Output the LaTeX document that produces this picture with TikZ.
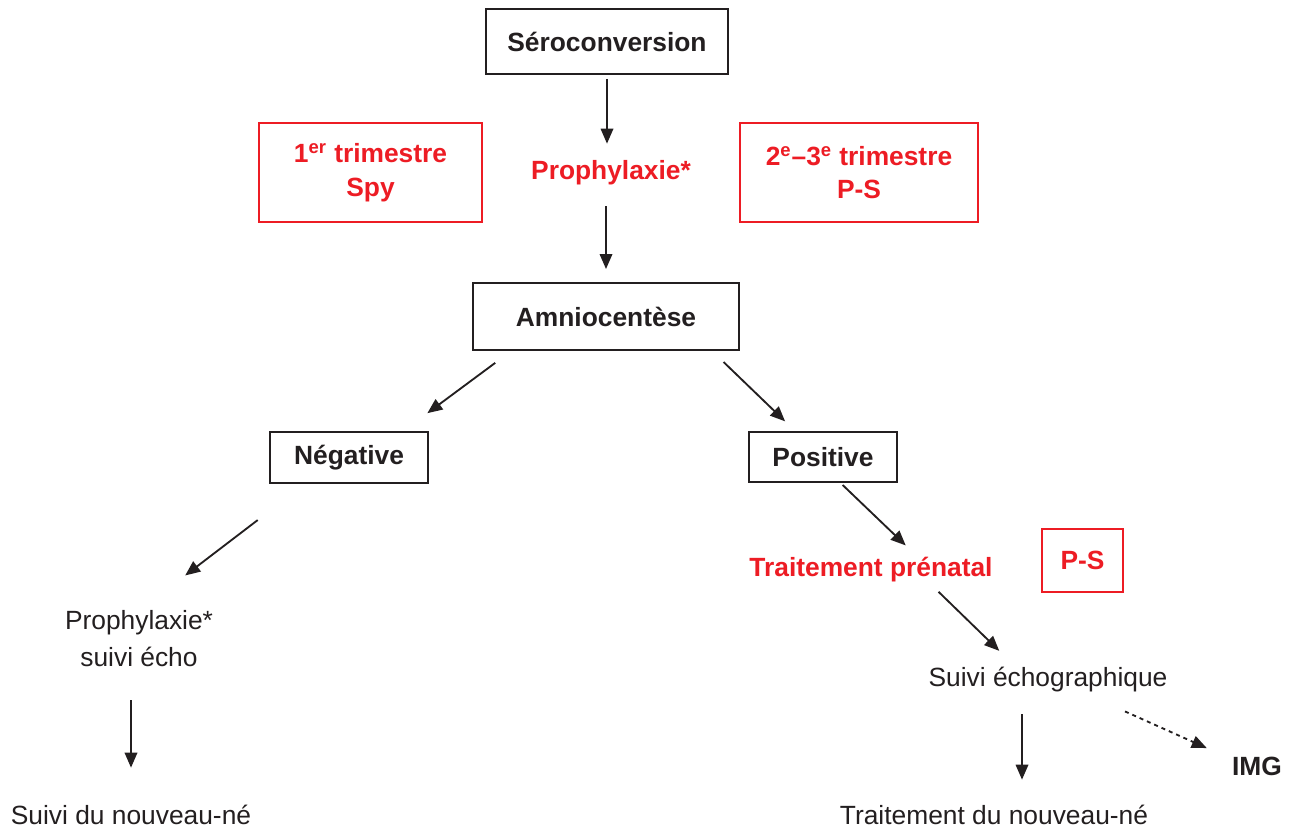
\documentclass[tikz,border=0pt]{standalone}
\usepackage{fontspec}
\setmainfont{Liberation Sans}
\usepackage{tikz}
\usetikzlibrary{arrows.meta,calc}
\usepackage{xcolor}
\definecolor{alertred}{RGB}{237,28,36}
\definecolor{inkblack}{RGB}{35,31,32}

\begin{document}
\begin{tikzpicture}[x=0.02cm, y=-0.02cm,
    every node/.style={font=\fontsize{15}{19}\selectfont, inner sep=0pt, text=inkblack},
    blackbox/.style={draw=inkblack, line width=1.1pt, font=\fontsize{15}{19}\selectfont\bfseries},
    redbox/.style={draw=alertred, line width=1.1pt, text=alertred, align=center,
                   font=\fontsize{15}{19}\selectfont\bfseries},
    redlabel/.style={text=alertred, font=\fontsize{15}{19}\selectfont\bfseries},
    arr/.style={-{Triangle[length=0.3cm,width=0.25cm]}, line width=1.05pt, inkblack},
    dotarr/.style={arr, dash pattern=on 0.08cm off 0.08cm}]
  \useasboundingbox[fill=white] (0,0) rectangle (1295,828);

  % main column
  \node[blackbox, minimum width=4.84cm, minimum height=1.3cm] (sero) at (607,41.5) {S\'eroconversion};
  \node[redlabel, minimum height=0.8cm] (proph) at (611,173) {Prophylaxie*};
  \node[redbox, minimum width=4.46cm, minimum height=1.98cm] (trim1) at (370.5,172.5)
    {1\textsuperscript{er} trimestre\\Spy};
  \node[redbox, minimum width=4.76cm, minimum height=1.98cm] (trim23) at (859,172.5)
    {2\textsuperscript{e}--3\textsuperscript{e} trimestre\\P-S};
  \node[blackbox, minimum width=5.32cm, minimum height=1.34cm] (amnio) at (606,316.5) {Amniocent\`ese};

  % negative branch
  \node[blackbox, minimum width=3.16cm, minimum height=1.02cm] (neg) at (349,457.5) {N\'egative};
  \node[align=center, minimum width=3.4cm, minimum height=1.52cm] (prophb) at (139,639)
    {Prophylaxie*\\[2pt]suivi \'echo};
  \node[minimum height=0.6cm] (nnsuivi) at (131,815) {Suivi du nouveau-n\'e};

  % positive branch
  \node[blackbox, minimum width=2.96cm, minimum height=1.0cm] (pos) at (823,457) {Positive};
  \node[redlabel, minimum width=4.96cm, minimum height=0.72cm] (prenat) at (871,570) {Traitement pr\'enatal};
  \node[redbox, minimum width=1.62cm, minimum height=1.26cm] (psbox) at (1082.5,560.5) {P-S};
  \node[minimum width=4.8cm, minimum height=0.72cm] (echo) at (1048,680) {Suivi \'echographique};
  \node[minimum height=0.6cm] (nntrait) at (994,815) {Traitement du nouveau-n\'e};
  \node[font=\fontsize{15}{19}\selectfont\bfseries, minimum width=1.12cm, minimum height=0.6cm] (img) at (1257,766) {IMG};
  \coordinate (echofoot) at ([xshift=-0.52cm]echo.south);

  \draw[arr, shorten <=0.08cm, shorten >=0.18cm] (sero.south) -- (sero.south |- proph.north);
  \draw[arr, shorten <=0.26cm, shorten >=0.26cm] (amnio.north |- proph.south) -- (amnio.north);
  \draw[arr, shorten <=0.4cm, shorten >=0.6cm] (amnio.200) -- (neg.26);
  \draw[arr, shorten <=0.32cm, shorten >=0.28cm] (amnio.342) -- (pos.137);
  \draw[arr, shorten <=1.19cm, shorten >=0.83cm] (neg.211) -- (prophb.71);
  \draw[arr, shorten <=0.46cm, shorten >=0.64cm] (nnsuivi.north |- prophb.south) -- (nnsuivi.north);
  \draw[arr, shorten <=0.06cm, shorten >=0.18cm] (pos.304) -- (prenat.24);
  \draw[arr, shorten <=0.1cm, shorten >=0.31cm] (prenat.344) -- (echo.154);
  \draw[arr, shorten <=0.32cm, shorten >=0.4cm] (echofoot) -- (echofoot |- nntrait.north);
  \draw[dotarr, shorten <=0.64cm, shorten >=0.48cm] (echo.339) -- (img.164);
\end{tikzpicture}
\end{document}
